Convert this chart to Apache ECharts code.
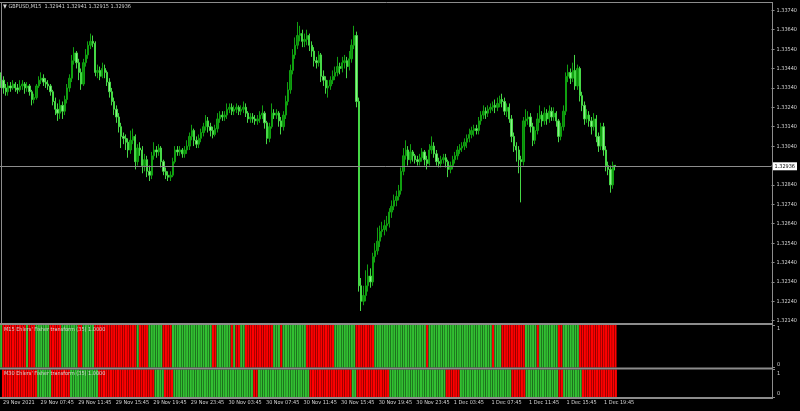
<!DOCTYPE html>
<html><head><meta charset="utf-8">
<script src="https://cdn.jsdelivr.net/npm/echarts@6/dist/echarts.min.js"></script>
<style>html,body{margin:0;padding:0;background:#000;}#c{width:800px;height:411px;}</style>
</head><body><div id="c"></div>
<script>
const symbol = 'GBPUSD';
const timeframe = 'M15';
const m15Label = "M15 Ehlers' Fisher transform (35) 1.0000";
const m30Label = "M30 Ehlers' Fisher transform (35) 1.0000";

const opens = [1.3341,1.3338,1.3334,1.3332,1.3335,1.3334,1.3336,1.3334,1.3333,1.3335,
1.3336,1.3334,1.3335,1.3332,1.3328,1.3329,1.3335,1.3338,1.3339,1.3337,
1.3336,1.3335,1.3332,1.3327,1.3323,1.3321,1.3325,1.3322,1.3328,1.3334,
1.3339,1.3348,1.3352,1.3347,1.3342,1.3336,1.3347,1.3351,1.3356,1.3358,
1.3357,1.3342,1.3343,1.3340,1.3344,1.3342,1.3337,1.3332,1.3327,1.3323,
1.3319,1.3314,1.3309,1.3308,1.3306,1.3302,1.3307,1.3309,1.3296,1.3303,
1.3302,1.3294,1.3297,1.3291,1.3289,1.3299,1.3302,1.3301,1.3303,1.3296,
1.3291,1.3289,1.3288,1.3289,1.3296,1.3302,1.3301,1.3302,1.3300,1.3302,
1.3304,1.3309,1.3312,1.3307,1.3305,1.3308,1.3311,1.3314,1.3317,1.3314,
1.3312,1.3310,1.3313,1.3318,1.3320,1.3319,1.3320,1.3323,1.3324,1.3322,
1.3323,1.3324,1.3322,1.3323,1.3324,1.3321,1.3318,1.3319,1.3318,1.3317,
1.3318,1.3320,1.3321,1.3316,1.3308,1.3314,1.3321,1.3320,1.3321,1.3317,
1.3314,1.3320,1.3327,1.3333,1.3343,1.3351,1.3356,1.3361,1.3362,1.3358,
1.3359,1.3361,1.3356,1.3353,1.3348,1.3347,1.3351,1.3340,1.3338,1.3334,
1.3335,1.3338,1.3340,1.3342,1.3345,1.3344,1.3347,1.3348,1.3345,1.3349,
1.3356,1.3361,1.3327,1.3232,1.3224,1.3227,1.3232,1.3237,1.3234,1.3247,
1.3250,1.3255,1.3260,1.3261,1.3263,1.3264,1.3270,1.3273,1.3276,1.3278,
1.3281,1.3291,1.3299,1.3302,1.3297,1.3301,1.3299,1.3297,1.3296,1.3298,
1.3301,1.3297,1.3295,1.3302,1.3304,1.3300,1.3296,1.3295,1.3297,1.3298,
1.3296,1.3292,1.3294,1.3297,1.3299,1.3302,1.3303,1.3304,1.3306,1.3308,
1.3310,1.3312,1.3313,1.3312,1.3317,1.3320,1.3322,1.3321,1.3323,1.3324,
1.3325,1.3324,1.3326,1.3328,1.3327,1.3322,1.3324,1.3318,1.3309,1.3304,
1.3302,1.3297,1.3296,1.3317,1.3318,1.3319,1.3314,1.3307,1.3312,1.3318,
1.3320,1.3317,1.3321,1.3318,1.3322,1.3319,1.3321,1.3317,1.3309,1.3314,
1.3322,1.3340,1.3342,1.3339,1.3343,1.3335,1.3344,1.3330,1.3325,1.3318,
1.3320,1.3317,1.3314,1.3318,1.3309,1.3304,1.3314,1.3302,1.3294,1.3292,
1.3284,1.32941];

const closes = [1.3338,1.3334,1.3332,1.3335,1.3334,1.3336,1.3334,1.3333,1.3335,1.3336,
1.3334,1.3335,1.3332,1.3328,1.3329,1.3335,1.3338,1.3339,1.3337,1.3336,
1.3335,1.3332,1.3327,1.3323,1.3321,1.3325,1.3322,1.3328,1.3334,1.3339,
1.3348,1.3352,1.3347,1.3342,1.3336,1.3347,1.3351,1.3356,1.3358,1.3357,
1.3342,1.3343,1.3340,1.3344,1.3342,1.3337,1.3332,1.3327,1.3323,1.3319,
1.3314,1.3309,1.3308,1.3306,1.3302,1.3307,1.3309,1.3296,1.3303,1.3302,
1.3294,1.3297,1.3291,1.3289,1.3299,1.3302,1.3301,1.3303,1.3296,1.3291,
1.3289,1.3288,1.3289,1.3296,1.3302,1.3301,1.3302,1.3300,1.3302,1.3304,
1.3309,1.3312,1.3307,1.3305,1.3308,1.3311,1.3314,1.3317,1.3314,1.3312,
1.3310,1.3313,1.3318,1.3320,1.3319,1.3320,1.3323,1.3324,1.3322,1.3323,
1.3324,1.3322,1.3323,1.3324,1.3321,1.3318,1.3319,1.3318,1.3317,1.3318,
1.3320,1.3321,1.3316,1.3308,1.3314,1.3321,1.3320,1.3321,1.3317,1.3314,
1.3320,1.3327,1.3333,1.3343,1.3351,1.3356,1.3361,1.3362,1.3358,1.3359,
1.3361,1.3356,1.3353,1.3348,1.3347,1.3351,1.3340,1.3338,1.3334,1.3335,
1.3338,1.3340,1.3342,1.3345,1.3344,1.3347,1.3348,1.3345,1.3349,1.3356,
1.3361,1.3327,1.3232,1.3224,1.3227,1.3232,1.3237,1.3234,1.3247,1.3250,
1.3255,1.3260,1.3261,1.3263,1.3264,1.3270,1.3273,1.3276,1.3278,1.3281,
1.3291,1.3299,1.3302,1.3297,1.3301,1.3299,1.3297,1.3296,1.3298,1.3301,
1.3297,1.3295,1.3302,1.3304,1.3300,1.3296,1.3295,1.3297,1.3298,1.3296,
1.3292,1.3294,1.3297,1.3299,1.3302,1.3303,1.3304,1.3306,1.3308,1.3310,
1.3312,1.3313,1.3312,1.3317,1.3320,1.3322,1.3321,1.3323,1.3324,1.3325,
1.3324,1.3326,1.3328,1.3327,1.3322,1.3324,1.3318,1.3309,1.3304,1.3302,
1.3297,1.3296,1.3317,1.3318,1.3319,1.3314,1.3307,1.3312,1.3318,1.3320,
1.3317,1.3321,1.3318,1.3322,1.3319,1.3321,1.3317,1.3309,1.3314,1.3322,
1.3340,1.3342,1.3339,1.3343,1.3335,1.3344,1.3330,1.3325,1.3318,1.3320,
1.3317,1.3314,1.3318,1.3309,1.3304,1.3314,1.3302,1.3294,1.3292,1.3284,
1.32941,1.32936];

const highs = [1.3342,1.3340,1.3336,1.3337,1.3337,1.3338,1.3337,1.3336,1.3338,1.3338,
1.3337,1.3337,1.3336,1.3333,1.3331,1.3336,1.3340,1.3342,1.3341,1.3339,
1.3338,1.3336,1.3333,1.3329,1.3326,1.3328,1.3327,1.3330,1.3336,1.3341,
1.3351,1.3355,1.3353,1.3349,1.3344,1.3349,1.3354,1.3358,1.3362,1.3361,
1.3358,1.3346,1.3345,1.3347,1.3346,1.3343,1.3339,1.3334,1.3329,1.3325,
1.3321,1.3316,1.3311,1.3310,1.3308,1.3312,1.3313,1.3310,1.3305,1.3306,
1.3304,1.3300,1.3299,1.3294,1.3301,1.3306,1.3304,1.3305,1.3304,1.3297,
1.3293,1.3291,1.3291,1.3298,1.3304,1.3304,1.3304,1.3303,1.3304,1.3307,
1.3311,1.3315,1.3313,1.3309,1.3310,1.3313,1.3316,1.3320,1.3319,1.3316,
1.3314,1.3315,1.3321,1.3322,1.3322,1.3322,1.3326,1.3326,1.3326,1.3325,
1.3326,1.3325,1.3325,1.3327,1.3326,1.3322,1.3321,1.3321,1.3320,1.3320,
1.3322,1.3325,1.3322,1.3317,1.3316,1.3326,1.3323,1.3323,1.3322,1.3319,
1.3322,1.3330,1.3337,1.3346,1.3354,1.3360,1.3368,1.3366,1.3364,1.3362,
1.3364,1.3362,1.3358,1.3355,1.3350,1.3353,1.3352,1.3343,1.3340,1.3338,
1.3340,1.3343,1.3345,1.3350,1.3347,1.3350,1.3351,1.3350,1.3353,1.3359,
1.3366,1.3363,1.3329,1.3236,1.3232,1.3240,1.3243,1.3241,1.3249,1.3254,
1.3262,1.3263,1.3265,1.3266,1.3268,1.3272,1.3276,1.3279,1.3281,1.3284,
1.3293,1.3303,1.3307,1.3304,1.3305,1.3302,1.3300,1.3299,1.3300,1.3303,
1.3302,1.3299,1.3305,1.3309,1.3306,1.3302,1.3298,1.3299,1.3300,1.3300,
1.3297,1.3296,1.3299,1.3301,1.3304,1.3305,1.3306,1.3308,1.3310,1.3313,
1.3314,1.3315,1.3315,1.3319,1.3322,1.3325,1.3324,1.3325,1.3326,1.3327,
1.3328,1.3329,1.3330,1.3331,1.3329,1.3326,1.3326,1.3320,1.3311,1.3306,
1.3304,1.3299,1.3319,1.3323,1.3322,1.3321,1.3316,1.3314,1.3321,1.3325,
1.3322,1.3324,1.3323,1.3325,1.3324,1.3324,1.3322,1.3318,1.3316,1.3325,
1.3342,1.3346,1.3344,1.3347,1.3351,1.3346,1.3345,1.3332,1.3327,1.3323,
1.3322,1.3319,1.3321,1.3320,1.3311,1.3316,1.3316,1.3304,1.3296,1.3294,
1.3296,1.32941];

const lows = [1.3334,1.3331,1.3330,1.3330,1.3332,1.3333,1.3332,1.3331,1.3332,1.3333,
1.3331,1.3332,1.3330,1.3325,1.3326,1.3328,1.3334,1.3336,1.3335,1.3334,
1.3333,1.3330,1.3325,1.3320,1.3317,1.3318,1.3318,1.3320,1.3326,1.3332,
1.3337,1.3346,1.3344,1.3338,1.3333,1.3335,1.3345,1.3349,1.3354,1.3355,
1.3340,1.3339,1.3338,1.3339,1.3339,1.3335,1.3329,1.3325,1.3320,1.3316,
1.3311,1.3303,1.3305,1.3302,1.3298,1.3300,1.3305,1.3292,1.3294,1.3299,
1.3290,1.3291,1.3288,1.3286,1.3287,1.3297,1.3298,1.3299,1.3293,1.3289,
1.3287,1.3286,1.3286,1.3288,1.3295,1.3299,1.3299,1.3298,1.3298,1.3300,
1.3302,1.3307,1.3304,1.3303,1.3303,1.3306,1.3309,1.3312,1.3311,1.3309,
1.3308,1.3309,1.3311,1.3316,1.3317,1.3317,1.3318,1.3321,1.3320,1.3320,
1.3321,1.3320,1.3320,1.3321,1.3319,1.3316,1.3316,1.3316,1.3315,1.3315,
1.3316,1.3318,1.3313,1.3305,1.3306,1.3313,1.3318,1.3318,1.3314,1.3310,
1.3312,1.3318,1.3325,1.3331,1.3341,1.3349,1.3354,1.3358,1.3355,1.3355,
1.3356,1.3353,1.3350,1.3345,1.3344,1.3345,1.3337,1.3335,1.3331,1.3329,
1.3333,1.3336,1.3338,1.3340,1.3341,1.3342,1.3344,1.3339,1.3343,1.3347,
1.3354,1.3324,1.3229,1.3219,1.3222,1.3224,1.3229,1.3231,1.3232,1.3244,
1.3248,1.3252,1.3257,1.3258,1.3260,1.3262,1.3267,1.3271,1.3273,1.3276,
1.3279,1.3289,1.3297,1.3294,1.3295,1.3296,1.3295,1.3294,1.3294,1.3296,
1.3294,1.3292,1.3294,1.3300,1.3298,1.3294,1.3293,1.3293,1.3295,1.3293,
1.3288,1.3290,1.3292,1.3295,1.3297,1.3300,1.3301,1.3302,1.3303,1.3306,
1.3308,1.3309,1.3310,1.3310,1.3315,1.3318,1.3318,1.3319,1.3321,1.3322,
1.3321,1.3322,1.3324,1.3324,1.3320,1.3319,1.3316,1.3306,1.3301,1.3296,
1.3290,1.3275,1.3294,1.3314,1.3315,1.3311,1.3304,1.3305,1.3310,1.3316,
1.3314,1.3315,1.3315,1.3316,1.3317,1.3317,1.3314,1.3306,1.3307,1.3312,
1.3320,1.3337,1.3336,1.3337,1.3333,1.3333,1.3327,1.3322,1.3315,1.3316,
1.3314,1.3310,1.3312,1.3306,1.3301,1.3302,1.3299,1.3291,1.3289,1.3280,
1.3282,1.32915];

// 1 = green (rising), 0 = red (falling)
const m15Trend = [1,0,0,0,0,0,0,0,0,0, 0,1,0,0,0,1,1,1,1,1, 1,0,0,0,0,0,1,1,1,1, 1,1,1,0,0,1,1,1,1,1,
0,0,0,0,0,0,0,0,0,0, 0,0,0,0,0,0,0,0,1,0, 0,0,0,1,1,1,1,1,1,0, 0,0,0,1,1,1,1,1,1,1,
1,1,1,1,1,1,1,1,1,1, 0,0,1,1,1,1,1,1,0,1, 0,0,1,1,0,0,0,0,0,0, 0,0,0,0,0,0,1,1,1,0,
1,1,1,1,1,1,1,1,1,1, 0,0,0,0,0,0,0,0,0,0, 0,0,1,1,1,1,1,1,1,1, 1,0,0,0,0,0,0,0,0,1,
1,1,1,1,1,1,1,1,1,1, 1,1,1,1,1,1,1,1,1,1, 1,0,1,1,1,1,1,1,1,1, 1,1,1,1,1,1,1,1,1,1,
1,1,1,1,1,1,1,1,1,0, 1,1,1,0,0,0,0,0,0,0, 0,0,0,1,1,1,1,1,0,1, 1,1,1,1,1,1,1,0,0,1,
1,1,1,1,1,1,0,0,0,0, 0,0,0,0,0,0,0,0,0,0, 0,0];
const m30Trend = [0,0,0,0,0,0,0,0,0,0, 0,0,0,0,0,1,1,1,1,1, 1,0,0,0,0,0,0,0,0,1, 1,1,1,1,1,1,1,1,1,1,
1,0,0,0,0,0,0,0,0,0, 0,0,0,0,0,0,0,0,0,0, 0,0,0,0,0,1,1,1,1,0, 0,0,0,1,1,1,1,1,1,1,
1,1,1,1,1,1,1,1,1,1, 1,1,1,1,1,1,1,1,1,1, 1,1,1,1,1,1,1,0,0,1, 1,1,1,1,1,1,1,1,1,1,
1,1,1,1,1,1,1,1,1,1, 1,0,0,0,0,0,0,0,0,0, 0,0,0,0,0,0,0,0,0,1, 1,0,0,0,0,0,0,0,0,0,
0,0,0,0,0,1,1,1,1,1, 1,1,1,1,1,1,1,1,1,1, 1,1,1,1,1,1,1,1,1,0, 0,0,0,0,0,1,1,1,1,1,
1,1,1,1,1,1,1,1,1,1, 1,1,1,1,1,1,1,0,0,0, 0,0,0,1,1,1,1,1,1,1, 1,1,1,1,1,1,1,0,0,1,
1,1,1,1,1,1,1,0,0,0, 0,0,0,0,0,0,0,0,0,0, 0,0];
const histValue = 1;

const priceTickValues = [1.3214,1.3224,1.3234,1.3244,1.3254,1.3264,1.3274,1.3284,1.3294,1.3304,1.3314,1.3324,1.3334,1.3344,1.3354,1.3364,1.3374];
const timeTickBars = [0,16,32,48,64,80,96,112,128,144,160,176,192,208,224,240,256];
const timeTickLabels = ['29 Nov 2021','29 Nov 07:45','29 Nov 11:45','29 Nov 15:45','29 Nov 19:45','29 Nov 23:45',
'30 Nov 03:45','30 Nov 07:45','30 Nov 11:45','30 Nov 15:45','30 Nov 19:45','30 Nov 23:45',
'1 Dec 03:45','1 Dec 07:45','1 Dec 11:45','1 Dec 15:45','1 Dec 19:45'];

// ---- rendering ----
const FONT = "'Liberation Sans Narrow','DejaVu Sans Condensed','Liberation Sans',Arial,sans-serif";
const FS = 5.5;
const TXT = '#d4d4d4';
const FRAME = '#8c8c8c';
const GREEN = '#32c032', RED = '#ff0000';
const SLOTS = 328;
const slots = Array.from({length: SLOTS}, (_, i) => String(i));
const candleData = opens.map((o, i) => [o, closes[i], lows[i], highs[i]]);
const hist = trend => trend.map(t => ({value: histValue, itemStyle: {color: t ? GREEN : RED}}));
const last = closes.length - 1;
const headText = '\u25BC ' + symbol + ',' + timeframe + '  ' + opens[last].toFixed(5) + ' ' + highs[last].toFixed(5) + ' ' + lows[last].toFixed(5) + ' ' + closes[last].toFixed(5);
const isTick = i => timeTickBars.indexOf(i) >= 0;

const W = 772;
const chart = echarts.init(document.getElementById('c'), null, {renderer: 'canvas'});
const hiddenX = gi => ({type: 'category', gridIndex: gi, data: slots, boundaryGap: true,
  axisLine: {show: false}, axisTick: {show: false}, axisLabel: {show: false}, splitLine: {show: false}});
const panelY = gi => ({type: 'value', gridIndex: gi, position: 'right', min: 0, max: 1, interval: 1,
  splitLine: {show: false}, axisLine: {show: false},
  axisTick: {show: true, length: 3, lineStyle: {color: FRAME}},
  axisLabel: {margin: 5, color: TXT, fontSize: FS, fontFamily: FONT,
    formatter: v => v === 1 ? '{t|1}' : '{b|0}',
    rich: {t: {padding: [8, 0, 0, 0], color: TXT, fontSize: FS, fontFamily: FONT},
           b: {padding: [0, 0, 6, 0], color: TXT, fontSize: FS, fontFamily: FONT}}}});
const txtStyle = {color: TXT, fontSize: FS, fontWeight: 'normal', fontFamily: FONT};

chart.setOption({
  backgroundColor: '#000000',
  animation: false,
  title: [
    {text: headText, left: 3, top: 4, padding: 0, textStyle: txtStyle},
    {text: m15Label, left: 4, top: 327, padding: 0, textStyle: txtStyle},
    {text: m30Label, left: 4, top: 371, padding: 0, textStyle: txtStyle}
  ],
  grid: [
    {left: 0, width: W, top: 4, height: 319},
    {left: 0, width: W, top: 325, height: 42.5},
    {left: 0, width: W, top: 369.5, height: 27.5}
  ],
  xAxis: [
    hiddenX(0), hiddenX(1),
    {type: 'category', gridIndex: 2, data: slots, boundaryGap: true,
     axisLine: {show: false}, splitLine: {show: false},
     axisTick: {show: true, alignWithLabel: true, interval: (i) => isTick(i), length: 2, lineStyle: {color: FRAME}},
     axisLabel: {show: true, interval: (i) => isTick(i), formatter: (v, i) => timeTickLabels[timeTickBars.indexOf(i)],
       align: 'left', margin: 3, color: TXT, fontSize: FS, fontFamily: FONT, hideOverlap: false}}
  ],
  yAxis: [
    {type: 'value', gridIndex: 0, position: 'right', min: 1.321282, max: 1.337725,
     splitLine: {show: false}, axisLine: {show: false},
     axisTick: {show: true, customValues: priceTickValues, length: 3, lineStyle: {color: FRAME}},
     axisLabel: {customValues: priceTickValues, formatter: v => v.toFixed(5), margin: 5, color: TXT, fontSize: FS, fontFamily: FONT}},
    panelY(1), panelY(2)
  ],
  series: [
    {type: 'candlestick', xAxisIndex: 0, yAxisIndex: 0, data: candleData, barWidth: '78%', clip: true,
     itemStyle: {color: '#0a8a0a', color0: '#8cf08c', borderColor: '#10a010', borderColor0: '#46d846', borderWidth: 1},
     markLine: {silent: true, symbol: ['none', 'none'], animation: false, precision: 5,
       lineStyle: {color: FRAME, type: 'solid', width: 1},
       label: {position: 'end', distance: 1, formatter: () => closes[last].toFixed(5), backgroundColor: '#ffffff',
         color: '#000000', fontSize: FS, fontFamily: FONT, padding: [1, 2, 1, 2]},
       emphasis: {disabled: true},
       data: [{yAxis: closes[last]}]}},
    {type: 'bar', xAxisIndex: 1, yAxisIndex: 1, data: hist(m15Trend), barWidth: '88%', silent: true},
    {type: 'bar', xAxisIndex: 2, yAxisIndex: 2, data: hist(m30Trend), barWidth: '88%', silent: true}
  ],
  graphic: [
    {type: 'line', z: 100, silent: true, shape: {x1: 0, y1: 2.5, x2: W + 1, y2: 2.5}, style: {stroke: FRAME, lineWidth: 1}},
    {type: 'line', z: 100, silent: true, shape: {x1: 1.5, y1: 2, x2: 1.5, y2: 323}, style: {stroke: FRAME, lineWidth: 1}},
    {type: 'line', z: 100, silent: true, shape: {x1: W + 0.5, y1: 2, x2: W + 0.5, y2: 399}, style: {stroke: FRAME, lineWidth: 1}},
    {type: 'line', z: 100, silent: true, shape: {x1: 0, y1: 324, x2: W + 1, y2: 324}, style: {stroke: FRAME, lineWidth: 2}},
    {type: 'line', z: 100, silent: true, shape: {x1: 0, y1: 368.5, x2: W + 1, y2: 368.5}, style: {stroke: FRAME, lineWidth: 2}},
    {type: 'line', z: 100, silent: true, shape: {x1: 0, y1: 398, x2: W + 1, y2: 398}, style: {stroke: FRAME, lineWidth: 2}}
  ]
});
</script>
</body></html>
